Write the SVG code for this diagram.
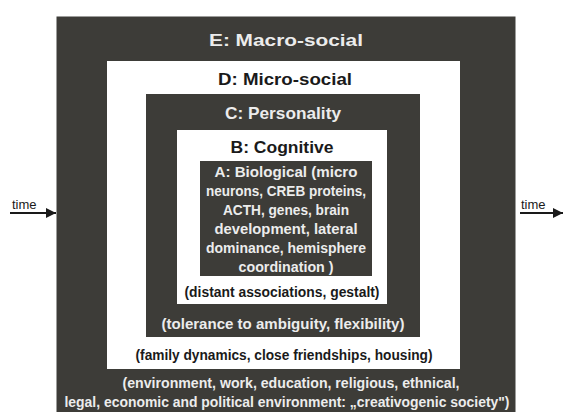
<svg xmlns="http://www.w3.org/2000/svg" width="564" height="412" viewBox="0 0 564 412">
  <style>
    .dark { fill: #3d3c38; }
    .light { fill: #ffffff; }
    text { font-family: "Liberation Sans", Arial, sans-serif; font-weight: bold; text-anchor: middle; }
    .t-on-dark { fill: #ececec; }
    .t-on-light { fill: #1a1a1a; }
    .title { font-size: 17px; }
    .note { font-size: 14px; }
    .conn { stroke: #1a1a1a; stroke-width: 2; fill: none; }
    .time { font-family: "Liberation Sans", Arial, sans-serif; font-weight: normal; font-size: 13px; fill: #1a1a1a; text-anchor: start; }
  </style>
  <defs>
    <marker id="arrow" viewBox="0 0 10 10" refX="10" refY="5" markerWidth="5" markerHeight="6.5" orient="auto" markerUnits="strokeWidth">
      <path d="M0,0 L10,5 L0,10 z" fill="#1a1a1a"/>
    </marker>
  </defs>
  <rect width="564" height="412" fill="#ffffff"/>

  <g id="layer-e">
    <rect class="dark" x="56.5" y="16.5" width="459" height="396"/>
    <text class="t-on-dark title" x="286" y="46" textLength="154" lengthAdjust="spacingAndGlyphs">E: Macro-social</text>
    <text class="t-on-dark note" x="291" y="388" textLength="337" lengthAdjust="spacingAndGlyphs">(environment, work, education, religious, ethnical,</text>
    <text class="t-on-dark note" x="287" y="407" textLength="445" lengthAdjust="spacingAndGlyphs">legal, economic and political environment: „creativogenic society")</text>
  </g>

  <g id="layer-d">
    <rect class="light" x="107" y="61" width="353" height="308"/>
    <text class="t-on-light title" x="285" y="85" textLength="134" lengthAdjust="spacingAndGlyphs">D: Micro-social</text>
    <text class="t-on-light note" x="284" y="360" textLength="297" lengthAdjust="spacingAndGlyphs">(family dynamics, close friendships, housing)</text>
  </g>

  <g id="layer-c">
    <rect class="dark" x="146" y="94" width="274" height="243"/>
    <text class="t-on-dark title" x="283" y="119" textLength="116" lengthAdjust="spacingAndGlyphs">C: Personality</text>
    <text class="t-on-dark note" x="283" y="329" textLength="243" lengthAdjust="spacingAndGlyphs">(tolerance to ambiguity, flexibility)</text>
  </g>

  <g id="layer-b">
    <rect class="light" x="177" y="130" width="210" height="174"/>
    <text class="t-on-light title" x="282" y="153" textLength="103" lengthAdjust="spacingAndGlyphs">B: Cognitive</text>
    <text class="t-on-light note" x="282" y="297" textLength="195" lengthAdjust="spacingAndGlyphs">(distant associations, gestalt)</text>
  </g>

  <g id="layer-a">
    <rect class="dark" x="200" y="161" width="172" height="115"/>
    <text class="t-on-dark note" x="286" y="177" textLength="143" lengthAdjust="spacingAndGlyphs">A: Biological (micro</text>
    <text class="t-on-dark note" x="286" y="196" textLength="160" lengthAdjust="spacingAndGlyphs">neurons, CREB proteins,</text>
    <text class="t-on-dark note" x="286" y="215" textLength="126" lengthAdjust="spacingAndGlyphs">ACTH, genes, brain</text>
    <text class="t-on-dark note" x="286" y="234" textLength="143" lengthAdjust="spacingAndGlyphs">development, lateral</text>
    <text class="t-on-dark note" x="286" y="253" textLength="160" lengthAdjust="spacingAndGlyphs">dominance, hemisphere</text>
    <text class="t-on-dark note" x="286" y="272" textLength="95" lengthAdjust="spacingAndGlyphs">coordination )</text>
  </g>

  <g id="connectors">
    <line class="conn" x1="10" y1="213" x2="56" y2="213" marker-end="url(#arrow)"/>
    <text class="time" x="12" y="209">time</text>
    <line class="conn" x1="520" y1="213" x2="563" y2="213" marker-end="url(#arrow)"/>
    <text class="time" x="521" y="209">time</text>
  </g>
</svg>
